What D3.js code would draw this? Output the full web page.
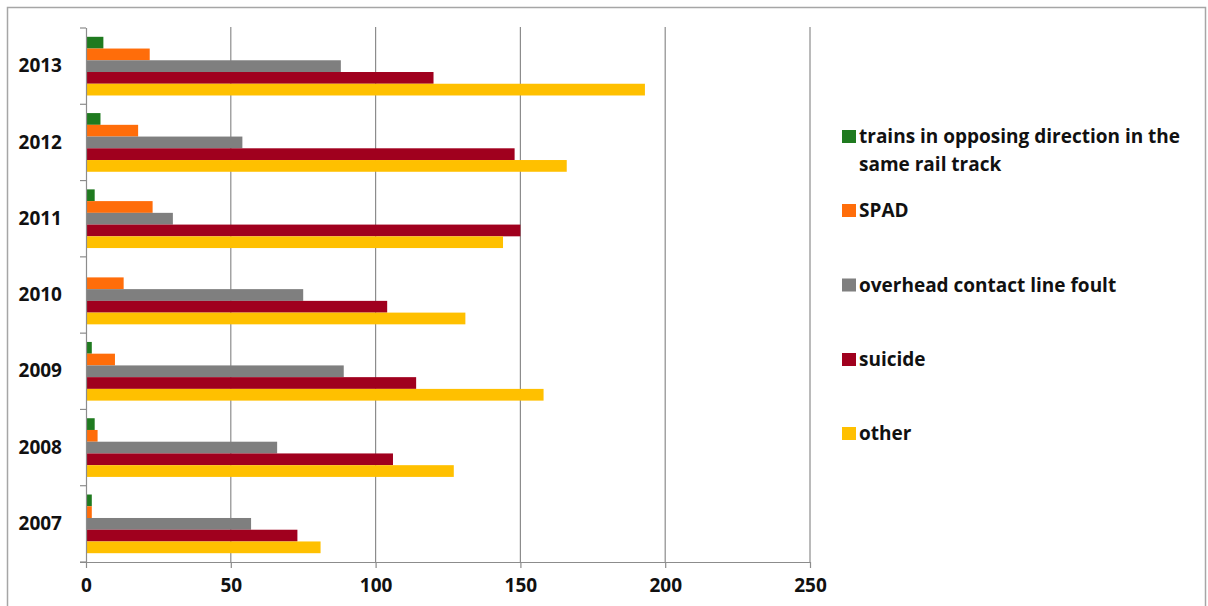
<!DOCTYPE html>
<html>
<head>
<meta charset="utf-8">
<script src="https://cdn.jsdelivr.net/npm/d3@7"></script>
<style>
  html, body { margin: 0; padding: 0; background: #fff; }
  svg { display: block; }
  text { font-family: "Open Sans", Lato, sans-serif; font-weight: bold; fill: #111; }
</style>
</head>
<body>
<svg id="chart" width="1208" height="606"></svg>
<script>
// Years, top to bottom as drawn
const years = ["2013", "2012", "2011", "2010", "2009", "2008", "2007"];

// Series names (legend order, and bar order within each year group)
const seriesNames = [
  "trains in opposing direction in the same rail track",
  "SPAD",
  "overhead contact line foult",
  "suicide",
  "other"
];
const seriesColors = ["#1f7a1f", "#ff6d0a", "#7f7f7f", "#a0001e", "#ffc000"];

// Counts per year (same order as `years`)
const opposingTrains = [6, 5, 3, 0, 2, 3, 2];
const spad           = [22, 18, 23, 13, 10, 4, 2];
const contactLine    = [88, 54, 30, 75, 89, 66, 57];
const suicide        = [120, 148, 150, 104, 114, 106, 73];
const other          = [193, 166, 144, 131, 158, 127, 81];

const xTicks = [0, 50, 100, 150, 200, 250];

const seriesValues = [opposingTrains, spad, contactLine, suicide, other];

const FONT = "'Open Sans', Lato, sans-serif";
const FONT_SIZE = 19;

const svg = d3.select("#chart");

// frame around the whole chart
svg.append("rect")
  .attr("x", 7.5).attr("y", 7.5)
  .attr("width", 1198).attr("height", 620)
  .attr("fill", "none").attr("stroke", "#a6a6a6").attr("stroke-width", 1.5);

const x = d3.scaleLinear().domain([0, 250]).range([86, 810]);
const y = d3.scaleBand().domain(years).range([28, 562]).padding(0);
const yInner = d3.scaleBand().domain(d3.range(seriesNames.length))
  .range([0, y.bandwidth()]).paddingInner(0).paddingOuter(0.75);

// vertical gridlines
svg.append("g").selectAll("line")
  .data(xTicks.filter(t => t > 0))
  .join("line")
  .attr("x1", d => x(d)).attr("x2", d => x(d))
  .attr("y1", 27).attr("y2", 562)
  .attr("stroke", "#8c8c8c").attr("stroke-width", 1.2);

// bars
const rows = years.map((yr, i) => ({ year: yr, values: seriesValues.map(s => s[i]) }));
const groups = svg.append("g").selectAll("g")
  .data(rows)
  .join("g")
  .attr("transform", d => `translate(0,${y(d.year)})`);

groups.selectAll("rect")
  .data(d => d.values.map((v, k) => ({ v, k })))
  .join("rect")
  .attr("x", x(0))
  .attr("y", d => yInner(d.k))
  .attr("width", d => x(d.v) - x(0))
  .attr("height", yInner.bandwidth())
  .attr("fill", d => seriesColors[d.k]);

// x axis
const xAxis = d3.axisBottom(x).tickValues(xTicks).tickSize(6).tickPadding(11);
const gx = svg.append("g").attr("transform", "translate(0,562)").call(xAxis);
gx.select(".domain").attr("d", `M80,0.5H${x(250)}`).attr("stroke", "#8c8c8c").attr("stroke-width", 1.2);
gx.selectAll(".tick line").attr("stroke", "#8c8c8c").attr("stroke-width", 1.2);
gx.selectAll(".tick text")
  .attr("font-size", FONT_SIZE).attr("font-family", FONT)
  .attr("font-weight", "bold").attr("fill", "#111");

// y axis: category labels plus boundary tick marks
const yAxis = d3.axisLeft(y).tickSize(0).tickPadding(24);
const gy = svg.append("g").attr("transform", `translate(${x(0)},0)`).call(yAxis);
gy.select(".domain").attr("d", `M0.5,28V562`).attr("stroke", "#8c8c8c").attr("stroke-width", 1.2);
gy.selectAll(".tick text")
  .attr("font-size", FONT_SIZE).attr("font-family", FONT)
  .attr("font-weight", "bold").attr("fill", "#111");
const boundaries = years.map(d => y(d)).concat([y.range()[1]]);
gy.append("g").selectAll("line")
  .data(boundaries)
  .join("line")
  .attr("x1", -6).attr("x2", 0)
  .attr("y1", d => d).attr("y2", d => d)
  .attr("stroke", "#8c8c8c").attr("stroke-width", 1.2);

// legend
const legendLines = [
  ["trains in opposing direction in the", "same rail track"],
  ["SPAD"],
  ["overhead contact line foult"],
  ["suicide"],
  ["other"]
];
const legendBaselines = [143, 217, 291.5, 366, 440];
const legend = svg.append("g");
legendLines.forEach((lines, i) => {
  const b = legendBaselines[i];
  legend.append("rect")
    .attr("x", 842).attr("y", b - 13)
    .attr("width", 14).attr("height", 13)
    .attr("fill", seriesColors[i]);
  const t = legend.append("text")
    .attr("x", 859).attr("y", b)
    .attr("font-size", FONT_SIZE);
  lines.forEach((ln, j) => {
    t.append("tspan").attr("x", 859).attr("dy", j === 0 ? 0 : 28).text(ln);
  });
});
</script>
</body>
</html>
